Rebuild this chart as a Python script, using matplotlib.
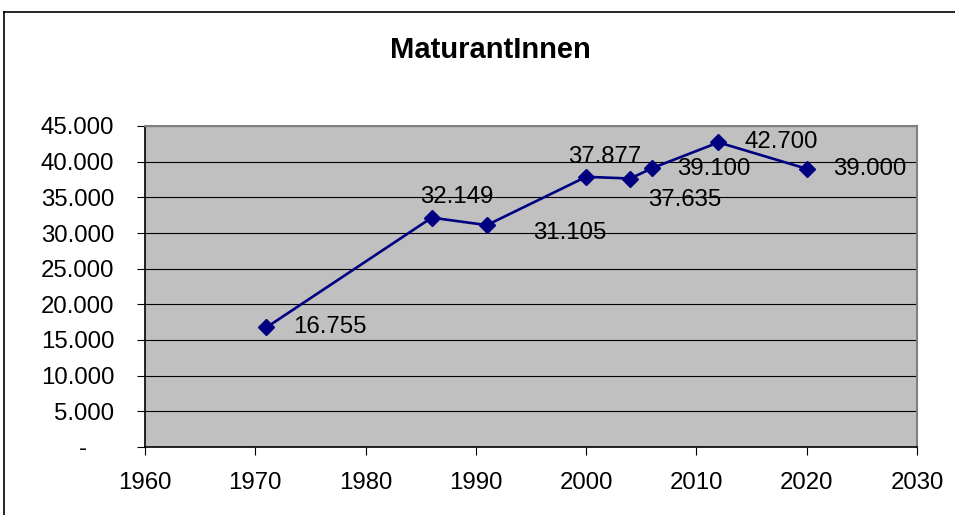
import matplotlib.pyplot as plt
from matplotlib.lines import Line2D
from matplotlib.ticker import FuncFormatter
from matplotlib.transforms import ScaledTranslation

plt.rcParams['font.family'] = ['Liberation Sans', 'DejaVu Sans']

# data
years = [1971, 1986, 1991, 2000, 2004, 2006, 2012, 2020]
values = [16755, 32149, 31105, 37877, 37635, 39100, 42700, 39000]
title = "MaturantInnen"

# label offsets in pixels (dx, dy) relative to each point
label_offsets = [(64, 0), (25, 21), (83, -8), (19, 20), (55, -21), (62, -1), (63, 0), (63, 0)]


def fmt_thousands(v, pos):
    if v == 0:
        return "-"
    return f"{int(v):,}".replace(",", ".")


fig = plt.figure(figsize=(9.55, 5.15), dpi=100)
ax = fig.add_axes([145/955, 1-447/515, 772/955, 321/515])

ax.set_facecolor('#C0C0C0')
ax.plot(years, values, color='#000080', lw=1.9, marker='D', ms=8.5, zorder=3)

for x, y, (dx, dy) in zip(years, values, label_offsets):
    ax.annotate(fmt_thousands(y, None), (x, y), xytext=(dx, dy), textcoords='offset pixels',
                ha='center', va='center', fontsize=17.3, color='black', zorder=4)

ax.set_xlim(1960, 2030)
ax.set_ylim(0, 45000)
ax.set_xticks(range(1960, 2031, 10))
ax.set_yticks(range(0, 45001, 5000))
ax.yaxis.set_major_formatter(FuncFormatter(fmt_thousands))
ax.grid(axis='y', color='black', lw=0.8, zorder=1)
ax.set_axisbelow(True)

ax.tick_params(axis='both', direction='out', length=6, width=0.8, labelsize=17.3, color='black')
ax.tick_params(axis='x', pad=12)
ax.tick_params(axis='y', pad=16)

for s in ['top', 'right']:
    ax.spines[s].set_color('#808080')
    ax.spines[s].set_linewidth(1.5)
for s in ['left', 'bottom']:
    ax.spines[s].set_color('black')
    ax.spines[s].set_linewidth(1.2)

fig.canvas.draw()
# dash for zero sits further left, like Excel accounting format
zero_lbl = ax.get_yticklabels()[0]
zero_lbl.set_transform(zero_lbl.get_transform() + ScaledTranslation(-0.27, 0, fig.dpi_scale_trans))

fig.text(490/955, 1-50/515, title, ha='center', va='center', fontsize=21, fontweight='bold')

# chart border (cropped: only left and top visible)
fig.add_artist(Line2D([4/955, 4/955], [0, 1-12/515], color='black', lw=1.2, transform=fig.transFigure))
fig.add_artist(Line2D([4/955, 1], [1-12/515, 1-12/515], color='black', lw=1.2, transform=fig.transFigure))

fig.savefig('out.png', dpi=100)
